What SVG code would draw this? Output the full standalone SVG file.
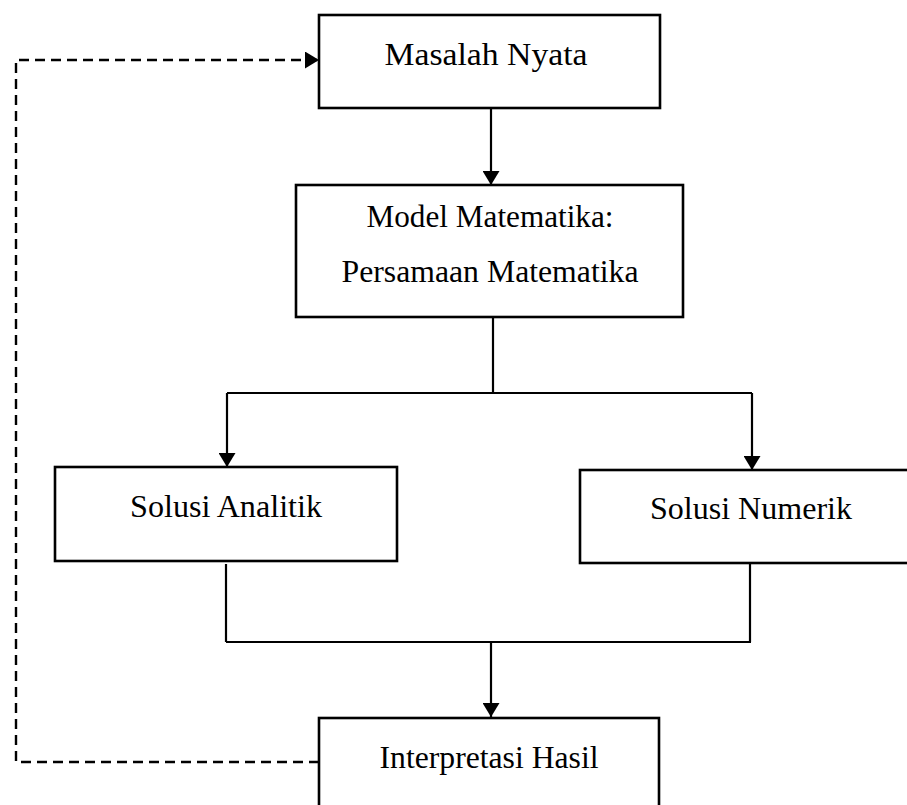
<svg xmlns="http://www.w3.org/2000/svg" width="907" height="805" viewBox="0 0 907 805">
<style>
.box{fill:#fff;stroke:#000;stroke-width:2.6}
.lbl{font-family:"Liberation Serif","Times New Roman",serif;font-size:31px;fill:#000;text-anchor:middle}
.ln{fill:none;stroke:#000;stroke-width:2.2}
.dash{fill:none;stroke:#000;stroke-width:2.4;stroke-dasharray:10 6}
</style>
<defs>
<marker id="ah" viewBox="0 0 14 17" refX="14" refY="8.5" markerWidth="14" markerHeight="17" markerUnits="userSpaceOnUse" orient="auto">
<path d="M0,0 L14,8.5 L0,17 Z" fill="#000"/>
</marker>
</defs>
<rect width="907" height="805" fill="#fff"/>
<g id="connectors">
<path class="ln" d="M491,108 V185" marker-end="url(#ah)"/>
<path class="ln" d="M493,317 V393"/>
<path class="ln" d="M227,393 H752"/>
<path class="ln" d="M227,393 V467" marker-end="url(#ah)"/>
<path class="ln" d="M752,393 V470" marker-end="url(#ah)"/>
<path class="ln" d="M226,564 V642"/>
<path class="ln" d="M750,563 V642"/>
<path class="ln" d="M226,642 H751"/>
<path class="ln" d="M491,642 V717" marker-end="url(#ah)"/>
<path class="dash" d="M319,762 H16 V60 H319" marker-end="url(#ah)"/>
</g>
<g id="masalah">
<rect class="box" x="319" y="15" width="341" height="93"/>
<text class="lbl" x="486" y="65" textLength="203" lengthAdjust="spacingAndGlyphs">Masalah Nyata</text>
</g>
<g id="model">
<rect class="box" x="296" y="185" width="387" height="132"/>
<text class="lbl" x="490" y="227" textLength="247" lengthAdjust="spacingAndGlyphs">Model Matematika:</text>
<text class="lbl" x="490" y="282" textLength="297" lengthAdjust="spacingAndGlyphs">Persamaan Matematika</text>
</g>
<g id="analitik">
<rect class="box" x="55" y="467" width="342" height="94"/>
<text class="lbl" x="226" y="517" textLength="192" lengthAdjust="spacingAndGlyphs">Solusi Analitik</text>
</g>
<g id="numerik">
<rect class="box" x="580" y="470" width="340" height="93"/>
<text class="lbl" x="751" y="519" textLength="202" lengthAdjust="spacingAndGlyphs">Solusi Numerik</text>
</g>
<g id="interpretasi">
<rect class="box" x="319" y="718" width="340" height="100"/>
<text class="lbl" x="489" y="768" textLength="219" lengthAdjust="spacingAndGlyphs">Interpretasi Hasil</text>
</g>
</svg>
